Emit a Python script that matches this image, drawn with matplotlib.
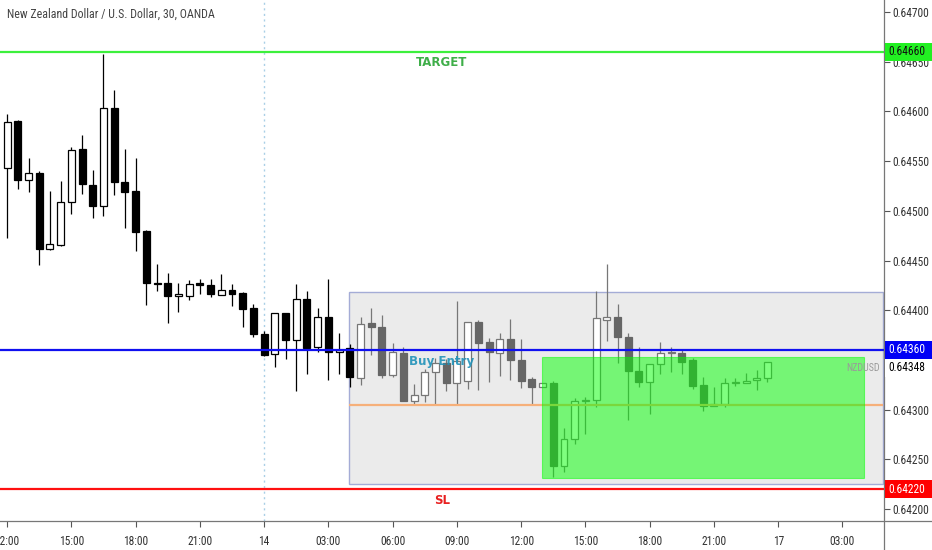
import matplotlib
matplotlib.use("Agg")
import matplotlib.pyplot as plt
from matplotlib import font_manager
from matplotlib.patches import Rectangle
from matplotlib.lines import Line2D

# 30 minute NZDUSD bars
opens = [0.64543, 0.64590, 0.64531, 0.64538, 0.64462, 0.64466, 0.64509, 0.64562, 0.64526, 0.64505,
         0.64603, 0.64529, 0.64520, 0.64480, 0.64427, 0.64427, 0.64414, 0.64414, 0.64427, 0.64425,
         0.64415, 0.64420, 0.64417, 0.64402, 0.64376, 0.64356, 0.64397, 0.64370, 0.64411, 0.64363,
         0.64393, 0.64358, 0.64362, 0.64332, 0.64387, 0.64383, 0.64335, 0.64357, 0.64309, 0.64315,
         0.64338, 0.64347, 0.64327, 0.64329, 0.64388, 0.64368, 0.64357, 0.64371, 0.64350, 0.64331,
         0.64323, 0.64327, 0.64243, 0.64270, 0.64309, 0.64310, 0.64390, 0.64393, 0.64373, 0.64339,
         0.64328, 0.64346, 0.64357, 0.64357, 0.64350, 0.64325, 0.64304, 0.64306, 0.64327, 0.64327,
         0.64330, 0.64332]
highs = [0.64597, 0.64591, 0.64553, 0.64540, 0.64520, 0.64530, 0.64564, 0.64576, 0.64541, 0.64658,
         0.64622, 0.64562, 0.64553, 0.64481, 0.64446, 0.64437, 0.64427, 0.64430, 0.64431, 0.64431,
         0.64436, 0.64426, 0.64418, 0.64406, 0.64379, 0.64397, 0.64397, 0.64426, 0.64419, 0.64402,
         0.64431, 0.64377, 0.64366, 0.64393, 0.64402, 0.64395, 0.64367, 0.64363, 0.64326, 0.64341,
         0.64352, 0.64351, 0.64409, 0.64388, 0.64390, 0.64372, 0.64377, 0.64391, 0.64371, 0.64333,
         0.64327, 0.64329, 0.64281, 0.64312, 0.64313, 0.64419, 0.64446, 0.64406, 0.64377, 0.64363,
         0.64346, 0.64368, 0.64363, 0.64361, 0.64352, 0.64333, 0.64323, 0.64332, 0.64332, 0.64337,
         0.64340, 0.64347]
lows = [0.64473, 0.64522, 0.64519, 0.64445, 0.64461, 0.64465, 0.64497, 0.64517, 0.64493, 0.64495,
        0.64516, 0.64483, 0.64460, 0.64405, 0.64419, 0.64387, 0.64398, 0.64410, 0.64416, 0.64413,
        0.64415, 0.64404, 0.64383, 0.64373, 0.64354, 0.64343, 0.64351, 0.64319, 0.64336, 0.64358,
        0.64330, 0.64336, 0.64323, 0.64325, 0.64355, 0.64332, 0.64333, 0.64309, 0.64306, 0.64308,
        0.64306, 0.64319, 0.64306, 0.64321, 0.64320, 0.64328, 0.64334, 0.64330, 0.64322, 0.64305,
        0.64323, 0.64232, 0.64237, 0.64265, 0.64275, 0.64303, 0.64369, 0.64347, 0.64290, 0.64323,
        0.64296, 0.64336, 0.64338, 0.64336, 0.64321, 0.64299, 0.64304, 0.64303, 0.64324, 0.64327,
        0.64320, 0.64328]
closes = [0.64589, 0.64531, 0.64538, 0.64462, 0.64467, 0.64509, 0.64561, 0.64527, 0.64505, 0.64603,
          0.64529, 0.64519, 0.64479, 0.64427, 0.64426, 0.64414, 0.64416, 0.64426, 0.64425, 0.64416,
          0.64420, 0.64416, 0.64401, 0.64376, 0.64355, 0.64397, 0.64370, 0.64411, 0.64362, 0.64393,
          0.64358, 0.64360, 0.64333, 0.64386, 0.64383, 0.64335, 0.64358, 0.64309, 0.64315, 0.64338,
          0.64347, 0.64327, 0.64349, 0.64388, 0.64367, 0.64358, 0.64371, 0.64350, 0.64329, 0.64323,
          0.64327, 0.64243, 0.64270, 0.64309, 0.64310, 0.64392, 0.64393, 0.64373, 0.64339, 0.64328,
          0.64346, 0.64357, 0.64358, 0.64348, 0.64324, 0.64304, 0.64306, 0.64327, 0.64328, 0.64329,
          0.64332, 0.64348]

# bars from this one on are drawn faded (after the idea was posted)
faded_from = 33

time_ticks = [0, 6, 12, 18, 24, 30, 36, 42, 48, 54, 60, 66, 72, 78]
time_labels = ["12:00", "15:00", "18:00", "21:00", "14", "03:00", "06:00",
               "09:00", "12:00", "15:00", "18:00", "21:00", "17", "03:00"]
price_ticks = [0.6420, 0.6425, 0.6430, 0.6440, 0.6445, 0.6450, 0.6455, 0.6460, 0.6465, 0.6470]

target = 0.64660
entry = 0.64360
stop = 0.64220
mid_level = 0.64305
last_price = 0.64348
range_box = (31.95, 81.77, 0.64225, 0.64418)
profit_box = (49.9, 80.0, 0.64231, 0.64353)
line_label_x = 40.6

# pick a narrow face if one is installed
installed = {f.name for f in font_manager.fontManager.ttflist}
narrow_face = next((n for n in ["Liberation Sans Narrow", "DejaVu Sans Condensed",
                                "Roboto Condensed", "Liberation Sans"] if n in installed),
                   "DejaVu Sans")
narrow = [narrow_face, "DejaVu Sans"]
is_narrow = narrow_face in ("Liberation Sans Narrow", "Roboto Condensed")
tick_fs = 8.3 if is_narrow else 7.4
title_fs = 8.6 if is_narrow else 7.7

W, H = 932, 550

fig = plt.figure(figsize=(W / 100, H / 100), dpi=100)
fig.patch.set_facecolor("white")
ax = fig.add_axes([0, (H - 521) / H, 884 / W, 521 / H])
ax.set_xlim(-0.663, 81.88)
ax.set_ylim(0.641879, 0.647121)
for s in ax.spines.values():
    s.set_visible(False)

# candles
for i in range(len(opens)):
    o, h, l, c = opens[i], highs[i], lows[i], closes[i]
    up = c >= o
    if i < faded_from:
        wick = "black"
        face = "white" if up else "black"
        edge = "black"
    else:
        wick = "#777777"
        face = "white" if up else "#666666"
        edge = "#777777" if up else "#666666"
    ax.vlines(i, l, h, color=wick, lw=0.9, zorder=2)
    ax.bar(i, abs(c - o), bottom=min(o, c), width=0.65, color=face,
           edgecolor=edge, linewidth=0.9, zorder=2.1)

# range rectangle (behind bars) and profit zone (over bars)
x0, x1, y0, y1 = range_box
ax.add_patch(Rectangle((x0, y0), x1 - x0, y1 - y0, facecolor="#ebebeb",
                       edgecolor="#a4acd6", lw=1, zorder=1))
ax.hlines(mid_level, x0, x1, color="#f6b07a", lw=1.6, zorder=2.5)
x0, x1, y0, y1 = profit_box
ax.add_patch(Rectangle((x0, y0), x1 - x0, y1 - y0, facecolor="#00ff00",
                       alpha=0.5, edgecolor="#00ff00", lw=0.8, zorder=3))

# day separator
ax.axvline(24, color="#a9cfe6", lw=1, ls=(0, (1.5, 2.5)), zorder=0.5)

# trade levels
ax.axhline(target, color="#3cf03c", lw=1.6, zorder=4)
ax.axhline(entry, color="#1010f0", lw=1.6, zorder=4)
ax.axhline(stop, color="#ff1010", lw=1.6, zorder=4)
ax.annotate("TARGET", (line_label_x, target), xytext=(0, -8), textcoords="offset points",
            ha="center", va="center", color="#3fae49", fontsize=8.5, fontweight="bold",
            zorder=6)
ax.annotate("SL", (line_label_x, stop), xytext=(0, -8), textcoords="offset points",
            ha="center", va="center", color="#e82020", fontsize=8.5, fontweight="bold",
            zorder=6)
ax.annotate("Buy Entry", (line_label_x, entry), xytext=(0, -8), textcoords="offset points",
            ha="center", va="center", color="#2192b9", fontsize=8.6, fontweight="bold",
            alpha=0.9, zorder=6)

# axes ticks
ax.yaxis.tick_right()
ax.set_yticks(price_ticks)
ax.set_yticklabels(["%.5f" % p for p in price_ticks], family=narrow, fontsize=tick_fs,
                   color="#333333")
ax.tick_params(axis="y", length=4, width=0.8, color="#555555", pad=2)
ax.set_xticks(time_ticks)
ax.set_xticklabels(time_labels, family=narrow, fontsize=tick_fs, color="#333333")
ax.tick_params(axis="x", length=4, width=0.8, color="#555555", pad=6)

ax.text(0.0075, 0.985, "New Zealand Dollar / U.S. Dollar, 30, OANDA", transform=ax.transAxes,
        ha="left", va="top", family=narrow, fontsize=title_fs, color="#444444")

# frame lines
fig.add_artist(Line2D([0, 1], [(H - 521) / H] * 2, transform=fig.transFigure,
                      color="#777777", lw=0.9))
fig.add_artist(Line2D([884 / W] * 2, [0, 1], transform=fig.transFigure,
                      color="#777777", lw=0.9))


# price tags on the right scale
def price_tag(price, text, face, fg, shift_px=0):
    y = ax.transData.transform((0, price))[1] / H - shift_px / H
    fig.add_artist(Rectangle((885 / W, y - 9 / H), 47 / W, 18 / H, transform=fig.transFigure,
                             facecolor=face, edgecolor="none", zorder=5))
    fig.text(888 / W, y, text, ha="left", va="center", family=narrow, fontsize=tick_fs,
             color=fg, zorder=6)
    return y


price_tag(target, "%.5f" % target, "#22f022", "#111111")
price_tag(entry, "%.5f" % entry, "#0000f5", "white")
y_last = price_tag(last_price, "%.5f" % last_price, "white", "black",
                   shift_px=ax.transData.transform((0, last_price))[1]
                   - ax.transData.transform((0, entry))[1] + 18)
price_tag(stop, "%.5f" % stop, "#ff0000", "white")
fig.text(880 / W, y_last, "NZDUSD", ha="right", va="center", family=narrow, fontsize=7.2,
         color="#9a9a9a", zorder=6)

fig.savefig("out.png", dpi=100, facecolor="white")
